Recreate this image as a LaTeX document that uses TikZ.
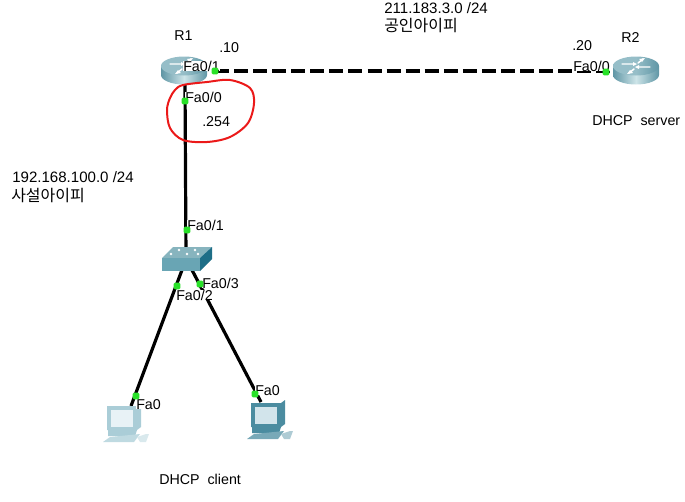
\documentclass[tikz,border=0pt]{standalone}
\usepackage{fontspec}
\setmainfont{Liberation Sans}
\newfontfamily\krfont{Noto Sans CJK KR}
\usetikzlibrary{calc}
\definecolor{portgreen}{RGB}{40,225,40}
\definecolor{redmark}{RGB}{235,25,25}
\definecolor{pclight}{RGB}{170,205,215}
\definecolor{pclightscr}{RGB}{232,242,246}
\definecolor{pcdark}{RGB}{75,140,160}
\definecolor{pcdarkscr}{RGB}{210,228,235}
\definecolor{rtop}{RGB}{150,190,200}
\definecolor{rside}{RGB}{95,150,165}
\definecolor{rmid}{RGB}{205,228,232}
\definecolor{swtop}{RGB}{135,180,190}
\definecolor{swfront}{RGB}{105,165,180}
\definecolor{swside}{RGB}{30,110,135}
\tikzset{
  link/.style={line width=2.4pt,black},
  dashlink/.style={link,dash pattern=on 10.5pt off 3.8pt},
  port/.style={rectangle,rounded corners=1pt,fill=portgreen,inner sep=0pt,minimum size=5pt},
  lbl/.style={font=\fontsize{10.7pt}{12pt}\selectfont,inner sep=0pt,anchor=west,text height=7.6pt,text depth=0pt},
  lblw/.style={lbl,fill=white},
  lblnet/.style={lbl,font=\fontsize{11.3pt}{12pt}\selectfont},
  kr/.style={font=\krfont\fontsize{12pt}{12pt}\selectfont,inner sep=0pt,anchor=west},
  anchorbox/.style={inner sep=0pt,minimum width=#1,minimum height=1pt},
  pics/routericon/.style={code={
    \shade[left color=rside,right color=rside,middle color=rmid]
      (-23,-4) -- (-23,5) arc[start angle=180,end angle=0,x radius=23,y radius=9.5] -- (23,-4) -- cycle;
    \shade[left color=rtop,right color=rside,middle color=rtop]
      (0,-4) ellipse[x radius=23,y radius=9.5];
    \draw[white,line width=1.1pt,line cap=round] (-14,-6)--(-3,-6) (3,-3)--(14,-3) (2,-7)--(7,-11) (-2,-1)--(-7,3);
    \fill[white] (-3,-8)--(1,-6)--(-3,-4)--cycle (3,-5)--(-1,-3)--(3,-1)--cycle
      (9,-12)--(6,-8)--(3,-11)--cycle (-9,4)--(-6,0)--(-3,3)--cycle;
  }},
  pics/switchicon/.style={code={
    \fill[swtop] (-19,0)--(-8,-11)--(31,-11)--(19,0)--cycle;
    \fill[swfront] (-19,0)--(19,0)--(19,13)--(-19,13)--cycle;
    \fill[swside] (19,0)--(31,-11)--(31,1)--(19,13)--cycle;
    \fill[white] (-10,-4) circle[radius=1.4] (-2,-8) circle[radius=1.4] (6,-4) circle[radius=1.4]
      (14,-8) circle[radius=1.4] (17,-4) circle[radius=1.4];
  }},
  pics/pcicon/.style 2 args={code={
    \fill[#1] (-17,-15)--(13,-15)--(17,-18)--(17,6)--(13,9)--(-17,9)--cycle;
    \fill[#2] (-13,-11)--(9,-11)--(9,6)--(-13,6)--cycle;
    \fill[#1] (-16,9)--(13,9)--(11,15)--(-16,15)--cycle;
    \fill[#1!75!white] (-14,16)--(16,13)--(10,21)--(-21,21)--cycle;
    \fill[#1!45!white] (13,16)--(22,13)--(25,13)--(22,21)--(16,21)--cycle;
  }},
}
\begin{document}
\begin{tikzpicture}[x=0.75pt,y=-0.75pt]
\useasboundingbox (0,0) rectangle (685,501);
\node[anchorbox=40pt] (R1) at (185,70) {};
\node[anchorbox=26pt] (R2) at (636,71) {};
\node[anchorbox=20pt] (SW) at (186,258) {};
\coordinate (R1E) at (215,71);
\coordinate (R1S) at (185,84);
\coordinate (SWL) at (182,270);
\coordinate (SWR) at (192,270);
\coordinate (PC1) at (131,406);
\coordinate (PC2) at (261,402);
% links
\draw[dashlink] (R1E) -- (R2.west);
\draw[link] (R1S) -- (SW.center);
\draw[link] (SWL) -- (PC1);
\draw[link] (SWR) -- (PC2);
% devices
\pic at (184,70) {routericon};
\pic at (636,70) {routericon};
\pic at (181,258) {switchicon};
\pic at (124,421) {pcicon={pclight}{pclightscr}};
\pic at (268,418) {pcicon={pcdark}{pcdarkscr}};
% labels
\node[lblw] (l1) at (183,66) {Fa0/1};
\node[lblw] (l2) at (185,97) {Fa0/0};
\node[lblw] (l3) at (187,225) {Fa0/1};
\node[lblw] (l4) at (176,295) {Fa0/2};
\node[lblw] (l5) at (202,283) {Fa0/3};
\node[lblw] (l6) at (136,404) {Fa0};
\node[lblw] (l7) at (255,390) {Fa0};
\node[lblw] (l8) at (573,66) {Fa0/0};
\node[lbl] (l9) at (174,35) {R1};
\node[lbl] (l10) at (621,37) {R2};
\node[lbl] (l11) at (219,47) {.10};
\node[lbl] (l12) at (572,45) {.20};
\node[lbl] (l13) at (202,121) {.254};
\node[lbl] (l14) at (592,120) {DHCP\ \ server};
\node[lbl] (l15) at (159,479) {DHCP\ \ client};
\node[lblnet] (l16) at (384,8) {211.183.3.0 /24};
\node[kr]  (l17) at (384,26) {공인아이피};
\node[lblnet] (l18) at (12,177) {192.168.100.0 /24};
\node[kr]  (l19) at (11,196) {사설아이피};
% ports
\node[port] (p1) at (215,71) {};
\node[port] (p2) at (606,72) {};
\node[port] (p3) at (185,101) {};
\node[port] (p4) at (187,230) {};
\node[port] (p5) at (177,286) {};
\node[port] (p6) at (200,284) {};
\node[port] (p7) at (136,396) {};
\node[port] (p8) at (255,394) {};
% annotation
\draw[redmark,line width=1.5pt,line join=round] plot[smooth cycle,tension=0.55] coordinates
 {(175,90) (183,85) (207,82) (230,80) (250,88) (254,103) (248,123) (230,137) (207,142) (183,140) (170,128) (167,110) (170,98)};
\end{tikzpicture}
\end{document}
